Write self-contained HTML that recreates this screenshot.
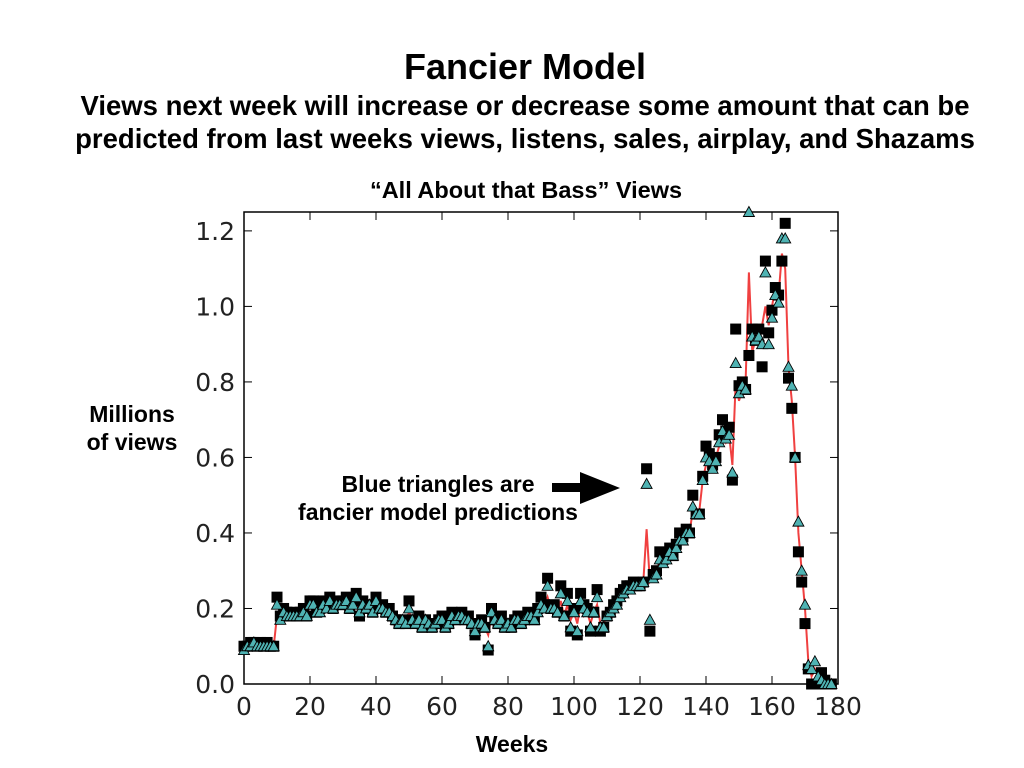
<!DOCTYPE html>
<html><head><meta charset="utf-8"><style>
body{margin:0;background:#fff;width:1024px;height:768px;overflow:hidden;font-family:"Liberation Sans",sans-serif}
svg{position:absolute;left:0;top:0}
</style></head><body>
<svg id="c" width="1024" height="768">
<text x="525" y="79" font-size="36" font-weight="bold" text-anchor="middle">Fancier Model</text>
<text x="525" y="115" font-size="27.5" font-weight="bold" text-anchor="middle">Views next week will increase or decrease some amount that can be</text>
<text x="525" y="148" font-size="27.5" font-weight="bold" text-anchor="middle">predicted from last weeks views, listens, sales, airplay, and Shazams</text>
<text x="526" y="198" font-size="23.5" font-weight="bold" text-anchor="middle">“All About that Bass” Views</text>
<text x="132" y="422" font-size="23" font-weight="bold" text-anchor="middle"><tspan x="132">Millions</tspan><tspan x="132" dy="28">of views</tspan></text>
<text x="512" y="752" font-size="23" font-weight="bold" text-anchor="middle">Weeks</text>
<g>
<text x="438" y="492" font-size="23" font-weight="bold" text-anchor="middle">Blue triangles are</text>
<text x="438" y="520" font-size="23" font-weight="bold" text-anchor="middle">fancier model predictions</text>
<rect x="552" y="483" width="32" height="9" fill="#000"/>
<polygon points="580,472 620,488 580,504" fill="#000"/>
</g>
<g id="axes"></g>
<g id="marks"></g>
</svg>
<script>
const weeks=[];for(let i=0;i<179;i++)weeks.push(i);
const actual=[0.10,0.10,0.11,0.11,0.10,0.11,0.10,0.11,0.10,0.10,
0.23,0.18,0.20,0.19,0.18,0.19,0.18,0.19,0.20,0.18,
0.22,0.22,0.19,0.20,0.22,0.21,0.23,0.20,0.22,0.21,
0.22,0.23,0.20,0.22,0.24,0.18,0.22,0.20,0.21,0.19,
0.23,0.20,0.21,0.19,0.20,0.18,0.17,0.16,0.17,0.16,
0.22,0.17,0.16,0.18,0.15,0.17,0.16,0.15,0.16,0.17,
0.18,0.15,0.16,0.19,0.17,0.18,0.19,0.17,0.18,0.16,
0.13,0.16,0.17,0.15,0.09,0.20,0.17,0.16,0.18,0.15,
0.16,0.15,0.17,0.18,0.16,0.17,0.19,0.18,0.17,0.20,
0.23,0.21,0.28,0.20,0.21,0.19,0.26,0.18,0.24,0.14,
0.20,0.13,0.24,0.21,0.20,0.14,0.19,0.25,0.14,0.15,
0.18,0.19,0.21,0.22,0.24,0.25,0.26,0.26,0.27,0.26,
0.26,0.27,0.57,0.14,0.29,0.30,0.35,0.33,0.34,0.36,
0.34,0.37,0.40,0.39,0.41,0.40,0.50,0.45,0.45,0.55,
0.63,0.61,0.58,0.60,0.66,0.70,0.67,0.68,0.54,0.94,
0.79,0.80,0.78,0.87,0.94,0.91,0.94,0.84,1.12,0.93,
0.99,1.05,1.03,1.12,1.22,0.81,0.73,0.60,0.35,0.27,
0.16,0.04,0.00,0.00,0.00,0.03,0.01,0.00,0.00];
const predicted=[0.09,0.10,0.10,0.11,0.10,0.10,0.10,0.10,0.10,0.10,
0.21,0.17,0.19,0.18,0.18,0.18,0.18,0.18,0.19,0.18,
0.21,0.21,0.19,0.19,0.21,0.20,0.22,0.20,0.21,0.21,
0.21,0.22,0.20,0.21,0.23,0.19,0.21,0.20,0.21,0.19,
0.22,0.20,0.20,0.19,0.19,0.18,0.17,0.16,0.17,0.16,
0.20,0.17,0.16,0.17,0.15,0.17,0.16,0.15,0.16,0.17,
0.17,0.15,0.16,0.18,0.17,0.18,0.18,0.17,0.17,0.16,
0.14,0.16,0.16,0.15,0.10,0.19,0.17,0.16,0.17,0.15,
0.16,0.15,0.17,0.17,0.16,0.17,0.18,0.18,0.17,0.19,
0.21,0.20,0.26,0.20,0.20,0.19,0.24,0.18,0.22,0.15,
0.19,0.14,0.22,0.20,0.19,0.15,0.19,0.23,0.15,0.15,
0.18,0.19,0.20,0.21,0.23,0.24,0.25,0.25,0.26,0.26,
0.26,0.27,0.53,0.17,0.28,0.29,0.33,0.32,0.33,0.35,
0.34,0.36,0.38,0.38,0.40,0.40,0.47,0.45,0.45,0.54,
0.60,0.59,0.57,0.59,0.64,0.67,0.65,0.66,0.56,0.85,
0.77,0.79,0.78,1.25,0.92,0.91,0.92,0.90,1.09,0.90,
0.97,1.03,1.01,1.18,1.18,0.84,0.79,0.60,0.43,0.30,
0.21,0.05,0.04,0.06,0.02,0.01,0.00,0.00,0.00];
const fitline=[0.10,0.10,0.11,0.11,0.10,0.11,0.10,0.10,0.10,0.10,
0.18,0.18,0.19,0.19,0.18,0.19,0.18,0.19,0.19,0.18,
0.21,0.21,0.19,0.20,0.21,0.21,0.22,0.20,0.21,0.21,
0.21,0.22,0.20,0.21,0.22,0.19,0.21,0.20,0.21,0.19,
0.22,0.20,0.20,0.19,0.19,0.18,0.17,0.16,0.17,0.16,
0.19,0.17,0.16,0.17,0.15,0.17,0.16,0.15,0.16,0.17,
0.17,0.15,0.16,0.18,0.17,0.18,0.18,0.17,0.17,0.16,
0.15,0.16,0.16,0.15,0.13,0.18,0.17,0.16,0.17,0.15,
0.16,0.15,0.17,0.17,0.16,0.17,0.18,0.18,0.17,0.19,
0.20,0.20,0.23,0.20,0.20,0.19,0.22,0.18,0.21,0.17,
0.19,0.16,0.21,0.18,0.19,0.16,0.19,0.21,0.16,0.16,
0.18,0.19,0.20,0.21,0.23,0.24,0.25,0.25,0.26,0.26,
0.26,0.27,0.41,0.27,0.28,0.29,0.33,0.32,0.33,0.35,
0.34,0.36,0.38,0.38,0.40,0.40,0.46,0.45,0.46,0.54,
0.58,0.59,0.57,0.60,0.63,0.66,0.64,0.66,0.58,0.80,
0.75,0.78,0.80,1.09,0.88,0.91,0.90,0.95,1.00,0.95,
1.00,1.05,1.03,1.14,1.10,0.84,0.75,0.60,0.40,0.30,
0.20,0.06,0.02,0.04,0.02,0.01,0.00,0.00,0.00];
const yTicks=[0.0,0.2,0.4,0.6,0.8,1.0,1.2];
const yTickLabels=["0.0","0.2","0.4","0.6","0.8","1.0","1.2"];
const xTicks=[0,20,40,60,80,100,120,140,160,180];
const xTickLabels=["0","20","40","60","80","100","120","140","160","180"];

const L=244,R=838,T=212,B=684,X0=0,X1=180,Y0=0,Y1=1.25;
const sx=v=>L+(v-X0)/(X1-X0)*(R-L);
const sy=v=>B-(v-Y0)/(Y1-Y0)*(B-T);
const NS="http://www.w3.org/2000/svg";
function mk(tag,attrs,parent){const e=document.createElementNS(NS,tag);for(const k in attrs)e.setAttribute(k,attrs[k]);parent.appendChild(e);return e;}
const ax=document.getElementById('axes'),mg=document.getElementById('marks');
yTicks.forEach((t,i)=>{
  const y=sy(t);
  const a=mk('line',{x1:L,x2:L+8,y1:y,y2:y,stroke:'#000','stroke-width':1},ax);
  
  
  const b=mk('line',{x1:R-8,x2:R,y1:y,y2:y,stroke:'#000','stroke-width':1},ax);
  
  
  const tx=mk('text',{x:L-9,y:y+9,'font-size':25,'text-anchor':'end',fill:'#222','font-family':'DejaVu Sans, sans-serif'},ax);
  tx.textContent=yTickLabels[i];
  
  
});
xTicks.forEach((t,i)=>{
  const x=sx(t);
  const a=mk('line',{x1:x,x2:x,y1:B,y2:B-8,stroke:'#000','stroke-width':1},ax);
  
  
  const b=mk('line',{x1:x,x2:x,y1:T,y2:T+8,stroke:'#000','stroke-width':1},ax);
  
  
  const tx=mk('text',{x:x,y:B+31,'font-size':25,'text-anchor':'middle',fill:'#222','font-family':'DejaVu Sans, sans-serif'},ax);
  tx.textContent=xTickLabels[i];
  
  
});
const fr=mk('rect',{x:L,y:T,width:R-L,height:B-T,fill:'none',stroke:'#000','stroke-width':1.5},ax);


const ln=mk('polyline',{points:weeks.map((w,i)=>sx(w)+','+sy(fitline[i])).join(' '),fill:'none',stroke:'#f04040','stroke-width':2},mg);


weeks.forEach((w,i)=>{
  const x=sx(w),y=sy(actual[i]);
  const s=mk('rect',{x:x-5.5,y:y-5.5,width:11,height:11,fill:'#000'},mg);
  
  
});
weeks.forEach((w,i)=>{
  const x=sx(w),y=sy(predicted[i]);
  const p=mk('polygon',{points:`${x},${y-5.5} ${x+5.5},${y+4.5} ${x-5.5},${y+4.5}`,fill:'#4fb3b3',stroke:'#000','stroke-width':0.9},mg);
  
  
});
</script>
</body></html>
